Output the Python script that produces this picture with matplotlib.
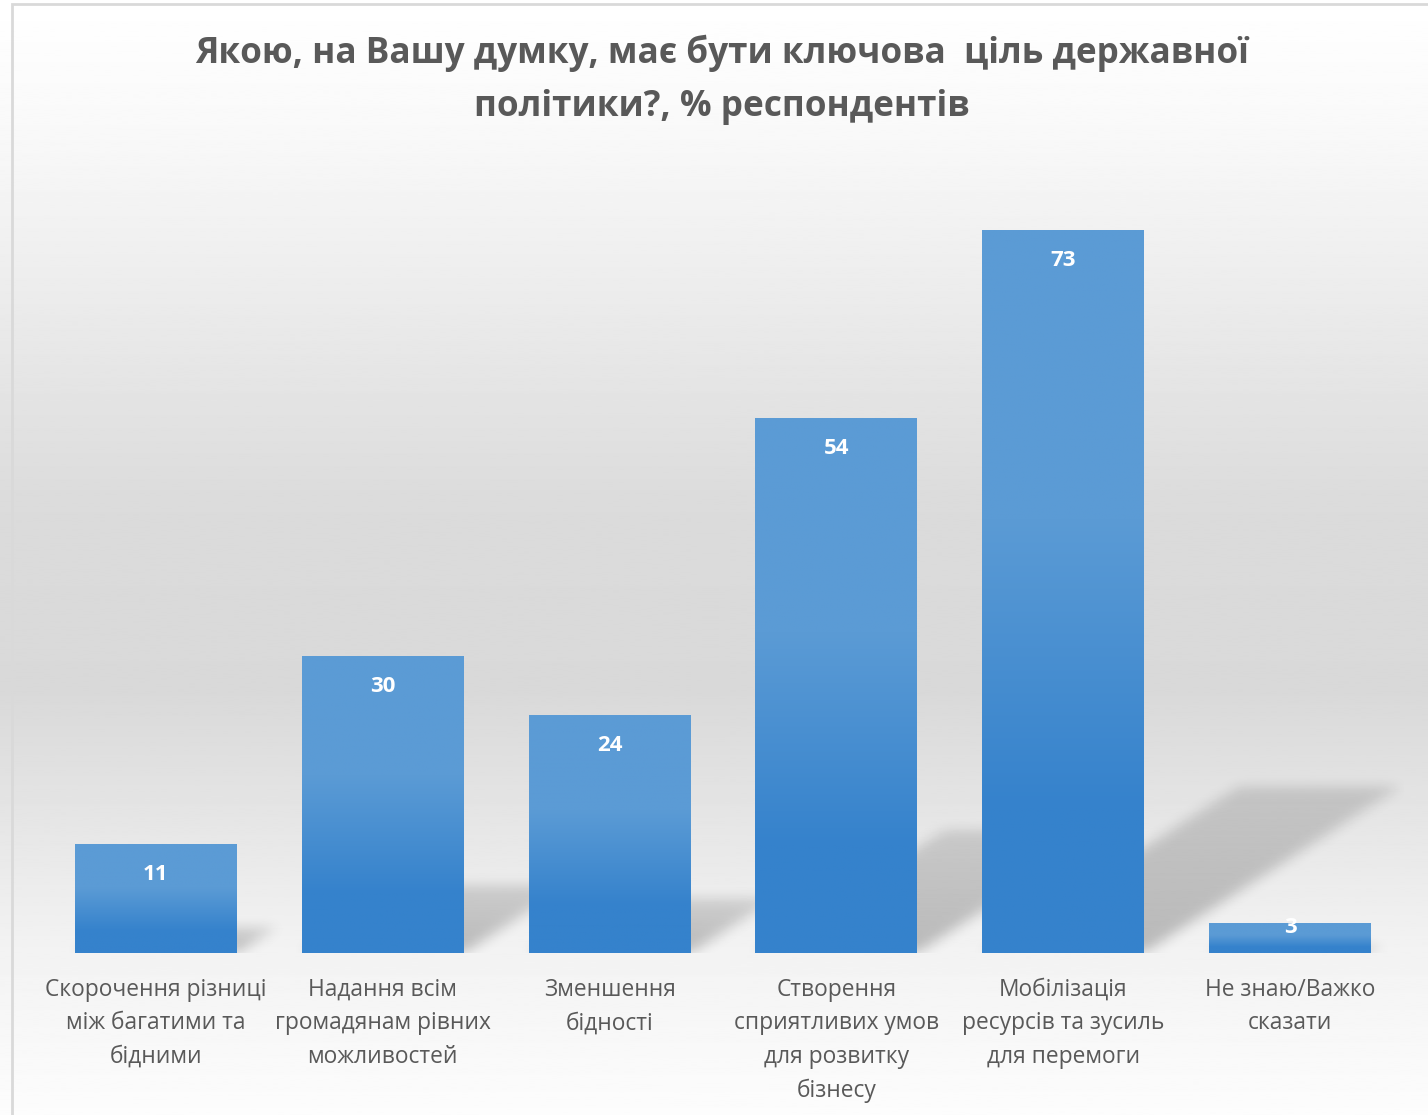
import numpy as np
import matplotlib.pyplot as plt
from matplotlib.path import Path
from matplotlib.patches import Rectangle

categories = [
    "Скорочення різниці\nміж багатими та\nбідними",
    "Надання всім\nгромадянам рівних\nможливостей",
    "Зменшення\nбідності",
    "Створення\nсприятливих умов\nдля розвитку\nбізнесу",
    "Мобілізація\nресурсів та зусиль\nдля перемоги",
    "Не знаю/Важко\nсказати",
]
values = [11, 30, 24, 54, 73, 3]

title = "Якою, на Вашу думку, має бути ключова  ціль державної\nполітики?, % респондентів"

plt.rcParams['font.family'] = ['Open Sans', 'DejaVu Sans']

W, H = 1428, 1115
fig = plt.figure(figsize=(W / 100, H / 100), dpi=100)

# background: white -> gray -> white vertical gradient
bg = fig.add_axes([0, 0, 1, 1], zorder=-10)
yy = np.linspace(0, 1, 600)
shade = np.interp(yy, [0, 0.12, 0.45, 0.62, 0.85, 1.0],
                  [1.0, 0.975, 0.86, 0.85, 0.95, 0.99])
bg.imshow(shade[:, None], cmap='gray', vmin=0, vmax=1, aspect='auto',
          extent=[0, 1, 0, 1], origin='upper')
bg.axis('off')

# thin frame on left/top
fig.add_artist(Rectangle((12 / W, -0.1), 1.2, 1 - 4 / H + 0.1, fill=False,
                         ec='#D9D9D9', lw=2, transform=fig.transFigure))

ax = fig.add_axes([42.5 / W, (H - 953) / H, 1361 / W, 792 / H])
ax.set_facecolor('none')
x = np.arange(len(values))
bar_w = 0.714
bars = ax.bar(x, values, width=bar_w, color='#4A8FD2', zorder=3)

# bar gradient, lighter on top
top_c = np.array([91, 155, 213]) / 255
bot_c = np.array([53, 130, 204]) / 255
t = np.interp(np.linspace(0, 1, 256), [0, 0.4, 0.8, 1], [0, 0, 1, 1])
grad = (top_c[None, :] * (1 - t[:, None]) + bot_c[None, :] * t[:, None])[:, None, :]
for b in bars:
    x0, h = b.get_x(), b.get_height()
    im = ax.imshow(grad, extent=[x0, x0 + b.get_width(), 0, h], origin='upper',
                   aspect='auto', zorder=3.5)
    im.set_clip_path(b)

# soft skewed shadows behind bars
gx = np.linspace(-0.5, 5.5, 1200)
gy = np.linspace(0, 24, 240)
GX, GY = np.meshgrid(gx, gy)
pts = np.column_stack([GX.ravel(), GY.ravel()])
alpha = np.zeros(GX.shape)
for xi, v in zip(x, values):
    hk = 0.23 * v
    s = 0.0672 * hk
    x0, x1 = xi - bar_w / 2, xi + bar_w / 2
    poly = Path([(x0, 0), (x1, 0), (x1 + s, hk), (x0 + s, hk), (x0, 0)])
    inside = poly.contains_points(pts).reshape(GX.shape)
    fade = 1 - 0.45 * np.clip(GY / hk, 0, 1)
    alpha = np.maximum(alpha, inside * fade)

k = np.exp(-0.5 * (np.arange(-18, 19) / 6.0) ** 2)
k /= k.sum()
alpha = np.apply_along_axis(lambda r: np.convolve(r, k, mode='same'), 1, alpha)
alpha = np.apply_along_axis(lambda c: np.convolve(c, k, mode='same'), 0, alpha)
rgba = np.zeros(GX.shape + (4,))
rgba[..., 3] = alpha * 0.24
ax.imshow(rgba, extent=[-0.5, 5.5, 0, 24], origin='lower', aspect='auto', zorder=2)

# value labels near the top, inside the bar
for xi, v in zip(x, values):
    ypos = v - 3.05 if v > 6 else v - 0.4
    ax.text(xi, ypos, str(v), ha='center', va='center',
            color='white', fontweight='bold', fontsize=16, zorder=5)

ax.set_xlim(-0.5, 5.5)
ax.set_ylim(0, 80)
ax.set_xticks(x, categories, fontsize=16.4, color='#595959', linespacing=1.52)
ax.tick_params(axis='x', length=0, pad=18)
ax.set_yticks([])
for sp in ax.spines.values():
    sp.set_visible(False)

fig.text(722 / W, 1 - 80 / H, title, ha='center', va='center', fontsize=25.3,
         fontweight='bold', color='#595959', linespacing=1.65)

fig.savefig('out.png', dpi=100)
